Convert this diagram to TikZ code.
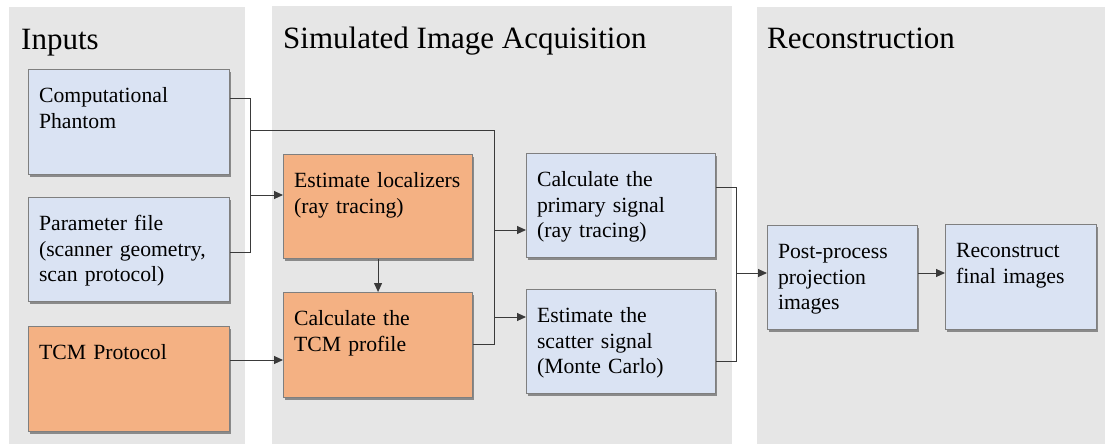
\documentclass[tikz,border=0pt]{standalone}
\usepackage{fontspec}
\setmainfont{Liberation Serif}
\usetikzlibrary{arrows.meta,shadows}
\definecolor{panelgray}{HTML}{E6E6E6}
\definecolor{boxblue}{HTML}{DAE3F3}
\definecolor{boxorange}{HTML}{F4B183}
\definecolor{edgegray}{HTML}{7F7F7F}
\definecolor{wiregray}{HTML}{3A3A3A}
\hyphenpenalty=10000
\tikzset{
	panel/.style={fill=panelgray},
	title/.style={anchor=base west, inner sep=0pt, font=\fontsize{31}{37}\selectfont},
	block/.style={anchor=north west, draw=edgegray, line width=1.1pt, align=left,
		inner xsep=10.5pt, inner ysep=0pt, text height=33pt,
		font=\fontsize{21.7}{25.5}\selectfont,
		drop shadow={shadow xshift=1.2pt, shadow yshift=-2pt, fill=black, opacity=0.4}},
	datablock/.style={block, fill=boxblue},
	tcmblock/.style={block, fill=boxorange},
	wire/.style={draw=wiregray, line width=1pt},
	feed/.style={wire, -{Triangle[length=9pt,width=8pt]}}
}

\begin{document}
\begin{tikzpicture}[x=1pt,y=-1pt]
	\useasboundingbox (0,0) rectangle (1105,445);

	% three stages
	\fill[panel] (9,7) rectangle (245,444);
	\fill[panel] (272,6) rectangle (732,444);
	\fill[panel] (757,7) rectangle (1105,444);
	\node[title] (intitle) at (21,49) {Inputs};
	\node[title] (simtitle) at (283,48) {Simulated Image Acquisition};
	\node[title] (rectitle) at (767,48) {Reconstruction};

	% inputs
	\node[datablock, text width=180pt, text depth=72pt] (phantom) at (28,69) {Computational\\Phantom};
	\node[datablock, text width=180pt, text depth=71pt] (params) at (28,197) {Parameter file\\(scanner geometry,\\scan protocol)};
	\node[tcmblock, text width=180pt, text depth=72pt] (tcm) at (28,326) {TCM Protocol};

	% acquisition
	\node[tcmblock, text width=168pt, text depth=71pt] (localizer) at (283,154) {Estimate localizers\\(ray tracing)};
	\node[tcmblock, text width=168pt, text depth=72pt] (profile) at (283,292) {Calculate the\\TCM profile};
	\node[datablock, text width=168pt, text depth=71pt] (primary) at (526,153) {Calculate the\\primary signal\\(ray tracing)};
	\node[datablock, text width=168pt, text depth=71pt] (scatter) at (526,289) {Estimate the\\scatter signal\\(Monte Carlo)};

	% reconstruction
	\node[datablock, text width=129pt, text depth=71pt] (postproc) at (767,225) {Post-process\\projection\\images};
	\node[datablock, text width=130pt, text depth=72pt] (recon) at (945,224) {Reconstruct\\final images};

	% junction points
	\coordinate (inA) at (250,98);
	\coordinate (inB) at (250,252);
	\coordinate (inC) at (250,195);
	\coordinate (inD) at (250,130);
	\coordinate (simA) at (494,130);
	\coordinate (simB) at (494,344);
	\coordinate (outA) at (736,187);
	\coordinate (outB) at (736,361);
	\coordinate (outC) at (736,273);

	\draw[wire] (phantom.east |- inA) -- (inA) -- (inB) -- (params.east |- inB);
	\draw[feed] (inC) -- (localizer.west |- inC);
	\draw[wire] (inD) -- (simA) -- (simB) -- (profile.east |- simB);
	\draw[feed] (tcm.east |- 0,360) -- (profile.west |- 0,360);
	\draw[feed] (localizer.south) -- (profile.north);
	\draw[feed] (simA |- 0,230) -- (primary.west |- 0,230);
	\draw[feed] (simA |- 0,317) -- (scatter.west |- 0,317);
	\draw[wire] (primary.east |- outA) -- (outA) -- (outB) -- (scatter.east |- outB);
	\draw[feed] (outC) -- (postproc.west |- outC);
	\draw[feed] (postproc.east |- outC) -- (recon.west |- outC);
\end{tikzpicture}
\end{document}
